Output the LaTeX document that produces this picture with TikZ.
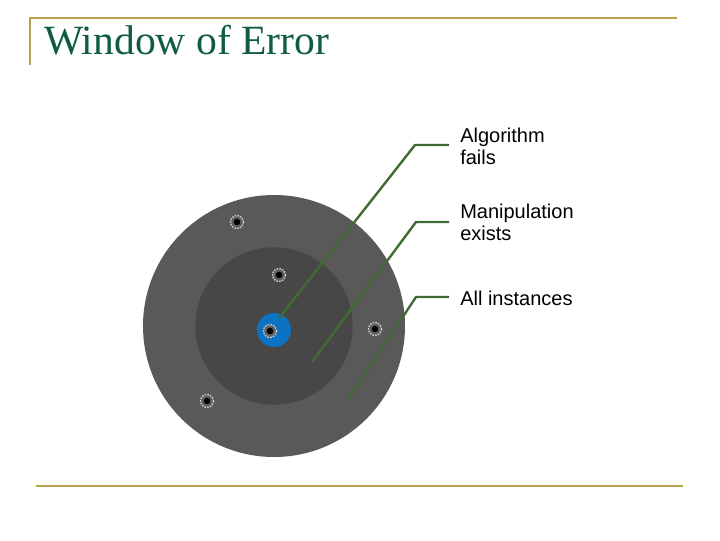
\documentclass[tikz,border=0pt]{standalone}
\usepackage{fontspec}
\setmainfont{Liberation Sans}
\newfontfamily\titlefont{Liberation Serif}
\definecolor{rulegold}{HTML}{B9A249}
\definecolor{titlegreen}{HTML}{0F5C40}
\definecolor{leader}{HTML}{3F6B35}
\definecolor{outerdisc}{HTML}{595959}
\definecolor{midisc}{HTML}{474747}
\definecolor{bluedisc}{HTML}{0B72C4}
\tikzset{
  goldrule/.style={draw=rulegold,line width=1.9pt},
  leaderline/.style={draw=leader,line width=1.8pt},
  lab/.style={anchor=west,align=left,inner sep=0pt,font=\fontsize{15}{16.5}\selectfont},
  holecore/.style={circle,fill=black,inner sep=0pt,minimum size=5pt},
}
\newcommand{\bullethole}[2]{%
  \fill[gray!75!black] (#2) circle[radius=6.5];
  \draw[white!80!black,line width=1pt,dash pattern=on 1.2pt off 0.9pt] (#2) circle[radius=6.5];
  \node[holecore] (#1) at (#2) {};
}
\begin{document}
\begin{tikzpicture}[x=0.75pt,y=-0.75pt]
\useasboundingbox (0,0) rectangle (720,540);
\draw[goldrule] (30,65) -- (30,18) -- (677,18);
\draw[goldrule] (36,486) -- (683,486);
\node[anchor=base west,inner sep=0pt,text=titlegreen,font=\titlefont\fontsize{31.2}{34}\selectfont] (title) at (44,54.5) {Window of Error};
\node[circle,fill=outerdisc,minimum size=196.5pt,inner sep=0pt] (outer) at (274,326) {};
\node[circle,fill=midisc,minimum size=118pt,inner sep=0pt] (mid) at (274,326) {};
\node[circle,fill=bluedisc,minimum size=25.5pt,inner sep=0pt] (core) at (274,330) {};
\node[lab] (a) at (460,146) {Algorithm\\fails};
\node[lab] (b) at (460,222) {Manipulation\\exists};
\node[lab] (c) at (460,298) {All instances};
\coordinate (a1) at (415,145); \coordinate (a2) at (279,318);
\coordinate (b1) at (416,222); \coordinate (b2) at (312,362);
\coordinate (c1) at (416,297); \coordinate (c2) at (349,398);
\coordinate (a0) at (449,145); \coordinate (b0) at (449,222); \coordinate (c0) at (449,297);
\draw[leaderline] (a0) -- (a1) -- (a2);
\draw[leaderline] (b0) -- (b1) -- (b2);
\draw[leaderline] (c0) -- (c1) -- (c2);
\bullethole{h1}{237,222}
\bullethole{h2}{279,275}
\bullethole{h3}{270,331}
\bullethole{h4}{375,329}
\bullethole{h5}{207,401}
\end{tikzpicture}
\end{document}
